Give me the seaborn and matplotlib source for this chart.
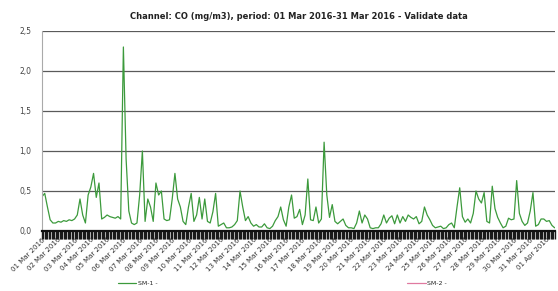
import matplotlib
matplotlib.use("Agg")
import matplotlib.pyplot as plt
import matplotlib.dates as mdates
from matplotlib.lines import Line2D
from matplotlib.ticker import FuncFormatter, MultipleLocator
import numpy as np
import pandas as pd
import seaborn as sns

# CO concentration, SM-1, one value every 4 hours (one row per day)
sm1 = [
    0.43, 0.47, 0.30, 0.14, 0.10, 0.10,   # 01 Mar
    0.12, 0.11, 0.13, 0.12, 0.14, 0.13,   # 02
    0.15, 0.20, 0.40, 0.20, 0.10, 0.45,   # 03
    0.55, 0.72, 0.42, 0.60, 0.15, 0.17,   # 04
    0.20, 0.18, 0.17, 0.16, 0.18, 0.15,   # 05
    2.30, 0.90, 0.25, 0.10, 0.08, 0.10,   # 06
    0.45, 1.00, 0.12, 0.40, 0.30, 0.12,   # 07
    0.60, 0.45, 0.50, 0.15, 0.13, 0.14,   # 08
    0.40, 0.72, 0.40, 0.30, 0.12, 0.08,   # 09
    0.30, 0.47, 0.12, 0.20, 0.42, 0.15,   # 10
    0.40, 0.12, 0.10, 0.24, 0.47, 0.06,   # 11
    0.08, 0.10, 0.04, 0.04, 0.05, 0.08,   # 12
    0.13, 0.50, 0.30, 0.13, 0.18, 0.10,   # 13
    0.06, 0.08, 0.05, 0.05, 0.09, 0.04,   # 14
    0.03, 0.06, 0.13, 0.18, 0.30, 0.14,   # 15
    0.06, 0.30, 0.45, 0.16, 0.18, 0.27,   # 16
    0.08, 0.20, 0.65, 0.14, 0.13, 0.30,   # 17
    0.10, 0.15, 1.11, 0.45, 0.17, 0.33,   # 18
    0.12, 0.09, 0.12, 0.15, 0.07, 0.04,   # 19
    0.04, 0.03, 0.10, 0.25, 0.10, 0.20,   # 20
    0.15, 0.04, 0.03, 0.04, 0.04, 0.09,   # 21
    0.20, 0.10, 0.16, 0.19, 0.09, 0.20,   # 22
    0.10, 0.18, 0.12, 0.20, 0.17, 0.15,   # 23
    0.18, 0.09, 0.12, 0.30, 0.20, 0.14,   # 24
    0.07, 0.04, 0.05, 0.06, 0.03, 0.04,   # 25
    0.08, 0.10, 0.04, 0.30, 0.54, 0.18,   # 26
    0.11, 0.15, 0.10, 0.22, 0.50, 0.40,   # 27
    0.35, 0.48, 0.12, 0.10, 0.56, 0.28,   # 28
    0.17, 0.10, 0.04, 0.06, 0.16, 0.14,   # 29
    0.15, 0.63, 0.22, 0.12, 0.07, 0.10,   # 30
    0.25, 0.48, 0.06, 0.08, 0.15, 0.15,   # 31
    0.12, 0.13, 0.07, 0.04,               # 01 Apr
]
times = pd.date_range("2016-03-01", periods=len(sm1), freq="4h")
df = pd.DataFrame({"time": times, "CO": sm1})

title = "Channel: CO (mg/m3), period: 01 Mar 2016-31 Mar 2016 - Validate data"
green = "#3c9a3c"
pink = "#e07aa0"

sns.set_style("white")
fig = plt.figure(figsize=(5.58, 2.91), dpi=100)
ax = fig.add_axes([0.0753, 0.2062, 0.9193, 0.6873])

sns.lineplot(data=df, x="time", y="CO", color=green, linewidth=0.9, ax=ax)

ax.set_xlim(pd.Timestamp("2016-03-01"), pd.Timestamp("2016-04-01 12:30"))
ax.set_ylim(0, 2.5)
ax.yaxis.set_major_locator(MultipleLocator(0.5))
ax.yaxis.set_major_formatter(FuncFormatter(lambda v, p: f"{v:.1f}".replace(".", ",")))
ax.grid(axis="y", color="#5a5a5a", linewidth=0.9)
ax.grid(axis="x", visible=False)

# dense hourly marks form the dark band under the axis
ax.xaxis.set_major_locator(mdates.DayLocator())
ax.xaxis.set_major_formatter(mdates.DateFormatter("%d %b %Y"))
ax.xaxis.set_minor_locator(mdates.HourLocator(byhour=range(0, 24, 2)))
ax.tick_params(axis="x", which="both", bottom=True, length=6, width=1.0,
               color="#1a1a1a", direction="out")
ax.tick_params(axis="x", which="major", pad=-2, labelsize=5, labelcolor="#333333")
ax.tick_params(axis="y", left=False, labelsize=5.5, labelcolor="#444444", pad=4)
for lab in ax.get_xticklabels():
    lab.set_rotation(45)
    lab.set_ha("right")
    lab.set_rotation_mode("anchor")

ax.set_xlabel("")
ax.set_ylabel("")
for s in ["top", "right"]:
    ax.spines[s].set_visible(False)
ax.spines["left"].set_color("#aaaaaa")
ax.spines["bottom"].set_color("#111111")
ax.spines["bottom"].set_linewidth(1.6)

fig.text(0.536, 0.945, title, ha="center", va="center", fontsize=6, fontweight="bold", color="#222222")

handles = [Line2D([], [], color=green, linewidth=0.9), Line2D([], [], color=pink, linewidth=0.9)]
fig.legend(handles, ["SM-1 -", "SM-2 -"], loc="center", bbox_to_anchor=(0.506, 0.027), ncol=2,
           frameon=False, fontsize=4.5, columnspacing=40, handlelength=3, handletextpad=0.2,
           borderpad=0)

fig.savefig("out.png", dpi=100)
